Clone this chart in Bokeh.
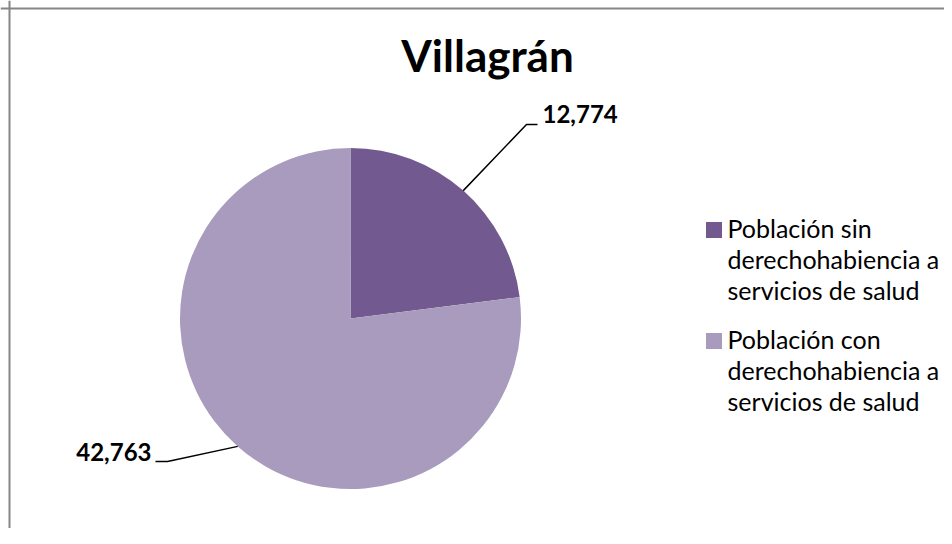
import math
from bokeh.plotting import figure
from bokeh.models import Range1d, Span
from bokeh.core.properties import value
from bokeh.embed import file_html
from bokeh.resources import INLINE

# ---- data ----
title_text = "Villagrán"
categories = [
    "Población sin derechohabiencia a servicios de salud",
    "Población con derechohabiencia a servicios de salud",
]
legend_lines = [
    ["Población sin", "derechohabiencia a", "servicios de salud"],
    ["Población con", "derechohabiencia a", "servicios de salud"],
]
values = [12774, 42763]
value_labels = ["12,774", "42,763"]
colors = ["#72598F", "#A99BBD"]

# ---- layout (screen pixel coords; data y = 528 - screen y) ----
W, H = 944, 528
def Y(py):
    return H - py

def TY(baseline, size):
    # compensate the renderer's baseline offset
    return Y(baseline - 0.41 * size)

FONT = "Lato"
p = figure(width=W, height=H, output_backend="svg", toolbar_location=None,
           x_range=Range1d(0, W), y_range=Range1d(0, H),
           x_axis_location=None, y_axis_location=None, min_border=0,
           outline_line_color=None, background_fill_color="white",
           border_fill_color="white")
p.grid.visible = False

# chart border (left & top visible)
p.add_layout(Span(location=9, dimension="height", line_color="#868686", line_width=2))
p.add_layout(Span(location=Y(8), dimension="width", line_color="#868686", line_width=2))

# title
p.text(x=[487], y=[TY(73, 44)], text=[title_text], text_font=value(FONT),
       text_font_style="bold", text_font_size="44px", text_color="#000000",
       text_align="center", text_baseline="alphabetic")

# pie
cx, cy, r = 350, Y(318), 170.5
total = sum(values)
starts, ends, mids = [], [], []
acc = 0.0
for v in values:
    a0 = math.pi / 2 - 2 * math.pi * acc / total
    acc += v
    a1 = math.pi / 2 - 2 * math.pi * acc / total
    starts.append(a0)
    ends.append(a1)
    mids.append((a0 + a1) / 2)

p.wedge(x=[cx] * len(values), y=[cy] * len(values), radius=r,
        start_angle=starts, end_angle=ends, direction="clock",
        fill_color=colors, line_color=None)

# leader lines + value labels
elbows = [((526, 124), (537, 124)), ((167, 461), (155, 461))]
text_pos = [(542, 123, "left"), (151, 461, "right")]
for i, v in enumerate(values):
    sx = cx + r * math.cos(mids[i])
    sy = cy + r * math.sin(mids[i])
    (ex, ey), (tx, ty) = elbows[i]
    p.line(x=[sx, ex, tx], y=[sy, Y(ey), Y(ty)], line_color="black", line_width=1.5)
    lx, ly, al = text_pos[i]
    p.text(x=[lx], y=[TY(ly, 24)], text=[value_labels[i]], text_font=value(FONT),
           text_font_style="bold", text_font_size="24px", text_color="#000000",
           text_align=al, text_baseline="alphabetic")

# legend
item_tops = [238, 349]
line_gap = 31
for i, lines in enumerate(legend_lines):
    b0 = item_tops[i]
    p.rect(x=[713.5], y=[Y(b0 - 8.5)], width=16, height=16, fill_color=colors[i], line_color=None)
    for j, t in enumerate(lines):
        p.text(x=[727], y=[TY(b0 + j * line_gap, 25)], text=[t], text_font=value(FONT),
               text_font_size="25px", text_color="#000000",
               text_align="left", text_baseline="alphabetic")

open("out.html", "w").write(file_html(p, INLINE))
